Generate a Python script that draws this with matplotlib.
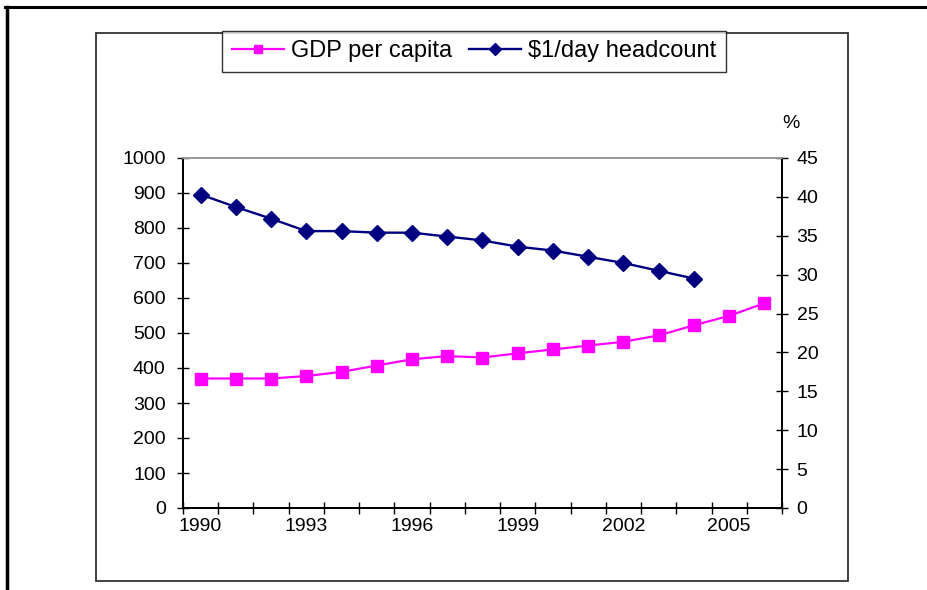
import matplotlib
matplotlib.use("Agg")
import matplotlib.pyplot as plt
from matplotlib.lines import Line2D
from matplotlib.patches import Rectangle

plt.rcParams['font.family'] = ['Liberation Sans', 'DejaVu Sans']

# annual series
years = list(range(1990, 2007))
gdp_per_capita = [370, 370, 370, 377, 389, 407, 425, 434, 430, 442, 453, 464, 475, 493, 522, 549, 585]
headcount = [40.3, 38.7, 37.2, 35.6, 35.6, 35.4, 35.4, 34.9, 34.4, 33.6, 33.1, 32.3, 31.5, 30.5, 29.5]
label_years = [1990, 1993, 1996, 1999, 2002, 2005]

W, H = 927, 590
fig = plt.figure(figsize=(W / 100, H / 100), dpi=100)

# page frame lines and chart border
fig.add_artist(Line2D([5 / W, 1], [1 - 7 / H, 1 - 7 / H], color='black', lw=2.2))
fig.add_artist(Line2D([7 / W, 7 / W], [0, 1 - 7 / H], color='black', lw=2.5))
fig.add_artist(Rectangle((96 / W, 1 - 581 / H), (848 - 96) / W, (581 - 33) / H,
                         fill=False, edgecolor='#333333', lw=1.3))

ax = fig.add_axes([183 / W, 1 - 508 / H, 599 / W, 350 / H])
ax2 = ax.twinx()

x = list(range(len(years)))
ax.plot(x, gdp_per_capita, color='#FF00FF', lw=1.6, marker='s', markersize=9,
        label='GDP per capita')
ax2.plot(x[:len(headcount)], headcount, color='#000080', lw=1.7, marker='D', markersize=8.5,
         label='$1/day headcount')

ax.set_xlim(-0.5, len(years) - 0.5)
ax.set_ylim(0, 1000)
ax2.set_ylim(0, 45)
ax.set_yticks(range(0, 1001, 100))
ax2.set_yticks(range(0, 46, 5))

# tick marks between categories, labels under every third year
ax.set_xticks([i - 0.5 for i in range(len(years) + 1)])
ax.set_xticklabels([])
ax.set_xticks([years.index(y) for y in label_years], minor=True)
ax.set_xticklabels([str(y) for y in label_years], minor=True)
ax.tick_params(axis='x', which='major', direction='inout', length=9, width=1, color='black')
ax.tick_params(axis='x', which='minor', length=0, pad=7, labelsize=14)
ax.tick_params(axis='y', direction='inout', length=9, width=1, pad=8, labelsize=14)
ax2.tick_params(axis='y', direction='inout', length=9, width=1, pad=6, labelsize=14)

for a in (ax, ax2):
    a.spines['top'].set_color('#999999')
    a.spines['top'].set_linewidth(1.3)
    for s in ('left', 'right', 'bottom'):
        a.spines[s].set_color('black')
        a.spines[s].set_linewidth(1.3)

fig.text(791 / W, 1 - 124 / H, '%', ha='center', va='center', fontsize=14)

h1, l1 = ax.get_legend_handles_labels()
h2, l2 = ax2.get_legend_handles_labels()
leg = fig.legend(h1 + h2, l1 + l2, loc='center', bbox_to_anchor=(474 / W, 1 - 51.5 / H),
                 ncol=2, fontsize=17, frameon=True, fancybox=False, edgecolor='black',
                 handlelength=2.2, handletextpad=0.3, columnspacing=0.7,
                 borderpad=0.42, markerscale=0.7)
leg.get_frame().set_linewidth(1.0)

plt.savefig('out.png', dpi=100)
plt.close()
